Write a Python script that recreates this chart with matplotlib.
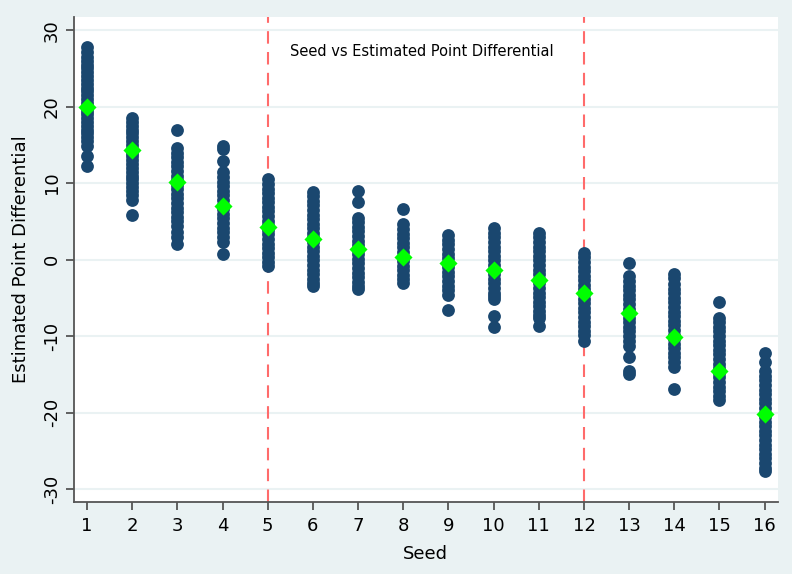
import matplotlib
matplotlib.use('Agg')
import matplotlib.pyplot as plt

# Значения по посевам
seeds = list(range(1, 17))
s1 = [27.8, 27.1, 26.5, 26.0, 25.5, 25.0, 24.5, 24.0, 23.5, 23.0, 22.5, 22.0, 21.5, 21.0,
      20.5, 20.0, 19.5, 19.0, 18.5, 18.0, 17.5, 17.0, 16.5, 16.0, 15.5, 14.8, 13.6, 12.3]
s2 = [18.5, 18.0, 17.5, 17.0, 16.5, 16.0, 15.5, 15.0, 14.5, 14.0, 13.5, 13.0, 12.5, 12.0,
      11.5, 11.0, 10.5, 10.0, 9.5, 9.0, 8.5, 7.8, 5.8]
s3 = [16.9, 14.6, 14.0, 13.4, 12.8, 12.2, 11.6, 11.0, 10.4, 9.8, 9.2, 8.6, 8.0, 7.4, 6.8,
      6.2, 5.6, 5.0, 4.4, 3.6, 3.0, 2.1]
s4 = [14.8, 14.5, 12.9, 11.4, 10.8, 10.2, 9.6, 9.0, 8.4, 7.8, 7.2, 6.6, 6.0, 5.4, 4.8,
      4.2, 3.6, 3.0, 2.3, 0.7]
s5 = [10.5, 9.9, 9.3, 8.7, 8.1, 7.5, 6.9, 6.3, 5.7, 5.1, 4.5, 3.9, 3.3, 2.7, 2.1, 1.5,
      0.9, 0.3, -0.3, -0.8]
s6 = [8.9, 8.3, 7.7, 7.1, 6.5, 5.9, 5.3, 4.7, 4.1, 3.5, 2.9, 2.3, 1.7, 1.1, 0.5, -0.1,
      -0.7, -1.3, -1.9, -2.5, -3.0, -3.5]
s7 = [9.0, 7.6, 5.5, 4.9, 4.3, 3.7, 3.1, 2.5, 1.9, 1.3, 0.7, 0.1, -0.5, -1.1, -1.7, -2.3,
      -2.9, -3.4, -3.9]
s8 = [6.6, 4.6, 4.0, 3.4, 2.8, 2.2, 1.6, 1.0, 0.4, -0.2, -0.8, -1.4, -2.0, -2.5, -3.0]
s9 = [3.2, 2.6, 2.0, 1.4, 0.8, 0.2, -0.4, -1.0, -1.6, -2.2, -2.8, -3.4, -4.0, -4.6, -6.6]
s10 = [4.1, 3.5, 2.9, 2.3, 1.7, 1.1, 0.5, -0.1, -0.7, -1.3, -1.9, -2.5, -3.1, -3.7, -4.3,
       -4.8, -5.2, -7.4, -8.8]
s11 = [3.5, 2.9, 2.3, 1.7, 1.1, 0.5, -0.1, -0.7, -1.3, -1.9, -2.5, -3.1, -3.7, -4.3, -4.9,
       -5.5, -6.1, -6.7, -7.2, -7.6, -8.7]
s12 = [0.9, 0.3, -0.3, -0.9, -1.5, -2.1, -2.7, -3.3, -3.9, -4.5, -5.1, -5.7, -6.3, -6.9,
       -7.5, -8.1, -8.7, -9.3, -9.9, -10.6]
s13 = [-0.5, -2.2, -2.8, -3.4, -4.0, -4.6, -5.2, -5.8, -6.4, -7.0, -7.6, -8.2, -8.8, -9.4,
       -10.0, -10.6, -11.3, -12.8, -14.6, -14.9]
s14 = [-1.9, -2.4, -3.2, -3.8, -4.4, -5.0, -5.6, -6.2, -6.8, -7.4, -8.0, -8.6, -9.2, -9.8,
       -10.4, -11.0, -11.6, -12.2, -12.8, -13.4, -14.1, -16.9]
s15 = [-5.6, -7.6, -8.2, -8.8, -9.4, -10.0, -10.6, -11.2, -11.8, -12.4, -13.0, -13.6,
       -14.2, -14.8, -15.4, -16.0, -16.6, -17.2, -17.8, -18.4]
s16 = [-12.2, -13.4, -14.6, -15.2, -15.8, -16.4, -17.0, -17.6, -18.2, -18.8, -19.4, -20.0,
       -20.6, -21.2, -21.8, -22.4, -23.0, -23.6, -24.2, -24.8, -25.4, -26.0, -26.6, -27.2,
       -27.7]
seed_values = [s1, s2, s3, s4, s5, s6, s7, s8, s9, s10, s11, s12, s13, s14, s15, s16]

# Средние по посевам (зелёные ромбы)
means = [20.0, 14.4, 10.2, 7.0, 4.3, 2.7, 1.4, 0.4, -0.4, -1.4, -2.7, -4.3, -7.0, -10.1,
         -14.6, -20.2]

cutoffs = [5, 12]

plt.rcParams['font.family'] = ['DejaVu Sans']
plt.rcParams['axes.unicode_minus'] = False

bg = '#EAF2F3'
fig = plt.figure(figsize=(7.92, 5.74), dpi=100, facecolor=bg)
ax = fig.add_axes([0.0934, 0.1254, 0.8886, 0.8446])
ax.set_facecolor('white')

for s, vals in zip(seeds, seed_values):
    ax.scatter([s] * len(vals), vals, s=85, color='#1A476F', linewidths=0, zorder=3)

ax.scatter(seeds, means, marker='D', s=85, color='#00FF00', linewidths=0, zorder=4)

for c in cutoffs:
    ax.axvline(c, color='#FF6B6B', linestyle=(0, (6, 4)), linewidth=1.5, zorder=2)

ax.text(0.307, 0.930, 'Seed vs Estimated Point Differential', transform=ax.transAxes,
        fontsize=10.5, ha='left', va='center')

ax.set_xlim(0.71, 16.29)
ax.set_ylim(-31.7, 31.7)
ax.set_xticks(seeds)
ax.set_yticks([-30, -20, -10, 0, 10, 20, 30])
ax.grid(axis='y', color=bg, linewidth=1.5, zorder=0)
ax.set_axisbelow(True)

for sp in ['top', 'right']:
    ax.spines[sp].set_visible(False)
for sp in ['left', 'bottom']:
    ax.spines[sp].set_color('#555555')
    ax.spines[sp].set_linewidth(1.3)

ax.tick_params(axis='both', direction='out', length=6, width=1.3, color='#555555',
               labelsize=13)
ax.tick_params(axis='x', pad=5)
plt.setp(ax.get_yticklabels(), rotation=90, va='center')

ax.set_xlabel('Seed', fontsize=13, labelpad=7)
ax.set_ylabel('Estimated Point Differential', fontsize=13, labelpad=9)

plt.savefig('out.png', dpi=100, facecolor=bg)
